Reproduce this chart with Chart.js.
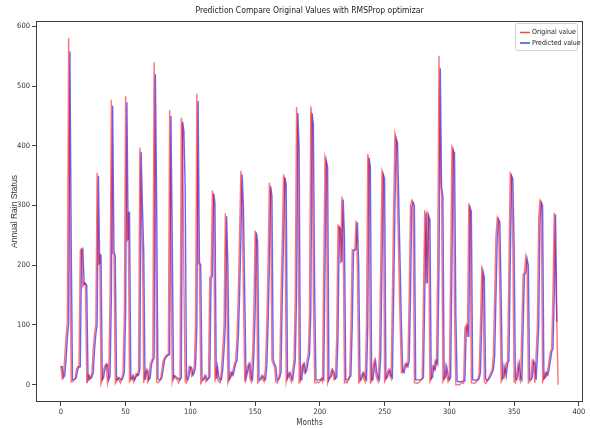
<!DOCTYPE html>
<html>
<head>
<meta charset="utf-8">
<script src="https://cdn.jsdelivr.net/npm/chart.js@4/dist/chart.umd.min.js"></script>
<style>
  html, body { margin: 0; padding: 0; background: #fff; }
  #wrap { width: 590px; height: 428px; }
</style>
</head>
<body>
<div id="wrap"><canvas id="rainChart"></canvas></div>
<script>
// monthly rain, original values
const originalValues = [
  32, 10, 15, 45, 80, 105, 580, 240, 5, 5, 8, 10,
  25, 30, 30, 226, 228, 165, 170, 168, 3, 15, 8, 12,
  20, 60, 85, 100, 355, 200, 220, 2, 10, 25, 32, 35,
  3, 15, 150, 477, 220, 218, 2, 5, 12, 8, 3, 10,
  20, 120, 483, 240, 288, 5, 8, 15, 5, 12, 18, 15,
  25, 397, 300, 225, 3, 20, 25, 5, 10, 35, 40, 45,
  540, 300, 5, 3, 5, 10, 25, 40, 45, 48, 50, 50,
  460, 250, 5, 15, 12, 10, 8, 3, 10, 447, 430, 172,
  5, 3, 15, 30, 28, 15, 20, 30, 100, 487, 205, 200,
  2, 5, 10, 15, 5, 8, 12, 180, 182, 325, 310, 5,
  30, 10, 5, 3, 25, 60, 100, 287, 200, 3, 10, 20,
  15, 25, 35, 40, 80, 150, 250, 358, 300, 150, 5, 20,
  30, 35, 10, 5, 50, 120, 258, 240, 3, 5, 10, 15,
  8, 5, 30, 100, 200, 338, 320, 40, 35, 30, 5, 3,
  10, 20, 150, 250, 352, 340, 5, 15, 20, 10, 5, 25,
  40, 150, 465, 400, 3, 5, 30, 35, 20, 25, 40, 50,
  120, 466, 440, 150, 3, 3, 5, 3, 5, 10, 5, 200,
  381, 370, 3, 10, 15, 25, 20, 8, 10, 80, 267, 265,
  203, 315, 250, 3, 5, 3, 10, 15, 100, 226, 225, 228,
  275, 200, 3, 5, 15, 20, 10, 5, 100, 386, 370, 3,
  5, 30, 40, 20, 10, 5, 50, 200, 358, 350, 5, 10,
  20, 25, 15, 10, 150, 300, 420, 410, 300, 200, 100, 20,
  20, 30, 35, 30, 40, 150, 300, 309, 305, 3, 3, 2,
  3, 5, 8, 10, 150, 292, 169, 287, 280, 5, 10, 30,
  25, 40, 35, 200, 551, 350, 320, 5, 10, 30, 15, 5,
  10, 200, 399, 395, 115, 0, 0, 0, 0, 2, 3, 2,
  95, 100, 80, 300, 295, 3, 3, 2, 3, 5, 8, 20,
  100, 192, 180, 5, 2, 5, 10, 15, 20, 25, 50, 150,
  250, 280, 275, 150, 5, 10, 30, 15, 35, 40, 200, 354,
  350, 236, 5, 3, 20, 35, 10, 5, 100, 185, 188, 214,
  200, 3, 5, 10, 40, 35, 3, 50, 100, 280, 309, 305,
  5, 10, 20, 15, 25, 40, 55, 60, 150, 288, 200, 100,
  0
];

// predicted values (RMSProp model), one step behind the original
const predictedValues = [
  30, 30, 12, 15, 42, 78, 102, 558, 235, 8, 8, 10,
  12, 25, 30, 30, 224, 227, 168, 170, 166, 8, 15, 10,
  13, 20, 58, 84, 100, 350, 202, 218, 8, 12, 25, 32,
  34, 8, 15, 148, 467, 222, 216, 8, 8, 12, 10, 8,
  12, 20, 118, 473, 242, 290, 10, 10, 15, 8, 13, 18,
  16, 25, 390, 298, 222, 8, 20, 24, 8, 12, 34, 40,
  45, 520, 298, 10, 8, 8, 12, 25, 40, 45, 48, 50,
  50, 450, 248, 10, 15, 13, 11, 10, 8, 12, 440, 425,
  330, 10, 8, 15, 30, 28, 16, 20, 30, 98, 475, 205,
  200, 8, 8, 11, 15, 8, 10, 13, 178, 182, 320, 305,
  10, 30, 12, 8, 8, 25, 58, 98, 282, 200, 8, 12,
  20, 16, 25, 35, 40, 78, 148, 246, 352, 298, 150, 10,
  20, 30, 35, 12, 8, 48, 118, 255, 238, 8, 8, 11,
  15, 10, 8, 30, 98, 198, 332, 316, 42, 35, 30, 8,
  8, 12, 20, 148, 246, 347, 335, 10, 15, 20, 12, 8,
  25, 40, 148, 455, 395, 8, 8, 30, 35, 20, 25, 40,
  50, 118, 455, 435, 152, 8, 8, 8, 8, 8, 11, 8,
  198, 375, 365, 8, 12, 15, 25, 20, 10, 12, 78, 263,
  262, 205, 310, 248, 8, 8, 8, 12, 15, 98, 224, 225,
  227, 272, 200, 8, 8, 15, 20, 12, 8, 98, 380, 365,
  8, 8, 30, 40, 20, 12, 8, 48, 198, 352, 345, 10,
  12, 20, 25, 16, 12, 148, 298, 412, 405, 300, 200, 100,
  22, 20, 30, 35, 30, 40, 148, 298, 305, 300, 8, 8,
  8, 8, 8, 10, 12, 148, 288, 170, 283, 276, 10, 12,
  30, 25, 40, 35, 198, 530, 330, 316, 10, 12, 30, 16,
  8, 12, 198, 392, 388, 119, 6, 5, 5, 5, 6, 6,
  6, 93, 98, 80, 297, 290, 8, 8, 7, 8, 8, 10,
  20, 98, 190, 180, 10, 7, 8, 11, 15, 20, 25, 48,
  148, 246, 277, 272, 150, 10, 12, 30, 16, 35, 40, 198,
  350, 345, 236, 10, 8, 20, 35, 12, 8, 98, 184, 187,
  211, 200, 8, 8, 12, 40, 35, 8, 48, 98, 276, 305,
  300, 10, 12, 20, 16, 25, 40, 55, 60, 148, 285, 105
];

const months = originalValues.map((v, i) => i);
const xTicks = [0, 50, 100, 150, 200, 250, 300, 350, 400];
const yTicks = [0, 100, 200, 300, 400, 500, 600];

const narrow = "'Liberation Sans Narrow', 'DejaVu Sans Condensed', sans-serif";

// matplotlib style box around the axes + legend in upper right
const axesBox = {
  id: 'axesBox',
  afterDatasetsDraw(chart) {
    const { ctx, chartArea } = chart;
    const a = chartArea;
    ctx.save();
    ctx.strokeStyle = '#3c3c3c';
    ctx.lineWidth = 1;
    ctx.strokeRect(Math.round(a.left) + 0.5, Math.round(a.top) + 0.5,
      Math.round(a.width) - 1, Math.round(a.height) - 1);

    // legend
    const bx = a.right - 68, by = a.top + 2, bw = 62, bh = 27;
    ctx.fillStyle = 'rgba(255,255,255,0.85)';
    ctx.strokeStyle = '#d0d0d0';
    ctx.beginPath();
    ctx.roundRect(bx + 0.5, by + 0.5, bw, bh, 2);
    ctx.fill();
    ctx.stroke();
    ctx.font = '7px ' + narrow;
    ctx.textBaseline = 'middle';
    chart.data.datasets.forEach((ds, i) => {
      const ly = by + 9.5 + i * 10.5;
      ctx.strokeStyle = ds.legendColor;
      ctx.lineWidth = 1.5;
      ctx.beginPath();
      ctx.moveTo(bx + 5, ly);
      ctx.lineTo(bx + 15, ly);
      ctx.stroke();
      ctx.fillStyle = '#222';
      ctx.fillText(ds.label, bx + 17, ly);
    });
    ctx.restore();
  }
};

new Chart(document.getElementById('rainChart'), {
  type: 'line',
  data: {
    labels: months,
    datasets: [
      {
        label: 'Original value',
        data: originalValues,
        borderColor: 'rgba(255, 0, 0, 0.55)',
        legendColor: 'rgba(255, 0, 0, 0.75)',
        borderWidth: 1.4,
        pointRadius: 0,
        tension: 0
      },
      {
        label: 'Predicted value',
        data: predictedValues,
        borderColor: 'rgba(0, 0, 255, 0.6)',
        legendColor: 'rgba(0, 0, 255, 0.75)',
        borderWidth: 1.4,
        pointRadius: 0,
        tension: 0
      }
    ]
  },
  options: {
    responsive: true,
    maintainAspectRatio: false,
    animation: false,
    layout: { padding: { left: 0, right: 7, top: 0, bottom: 0 } },
    plugins: {
      legend: { display: false },
      tooltip: { enabled: false },
      title: {
        display: true,
        text: 'Prediction Compare Original Values with RMSProp optimizar',
        fullSize: false,
        color: '#222',
        font: { family: narrow, size: 8.5, weight: 'normal', lineHeight: '10px' },
        padding: { top: 6, bottom: 5 }
      }
    },
    scales: {
      x: {
        type: 'linear',
        min: -19.2,
        max: 403.2,
        afterFit: (s) => { s.height = 26; },
        afterBuildTicks: (s) => { s.ticks = xTicks.map(v => ({ value: v })); },
        grid: { drawOnChartArea: false, drawTicks: true, tickLength: 4, color: '#444' },
        border: { display: false },
        ticks: { font: { family: narrow, size: 7.5 }, color: '#333', padding: 2, maxRotation: 0 },
        title: {
          display: true, text: 'Months', color: '#333',
          font: { family: narrow, size: 8 }, padding: { top: 0, bottom: 0 }
        }
      },
      y: {
        min: -29,
        max: 609,
        afterFit: (s) => { s.width = 36; },
        afterBuildTicks: (s) => { s.ticks = yTicks.map(v => ({ value: v })); },
        grid: { drawOnChartArea: false, drawTicks: true, tickLength: 4, color: '#444' },
        border: { display: false },
        ticks: { font: { family: narrow, size: 7.5 }, color: '#333', padding: 2 },
        title: {
          display: true, text: 'Annual Rain Status', color: '#333',
          font: { family: "'Liberation Sans', sans-serif", size: 8.5 }, padding: { top: 10, bottom: 0 }
        }
      }
    }
  },
  plugins: [axesBox]
});
</script>
</body>
</html>
